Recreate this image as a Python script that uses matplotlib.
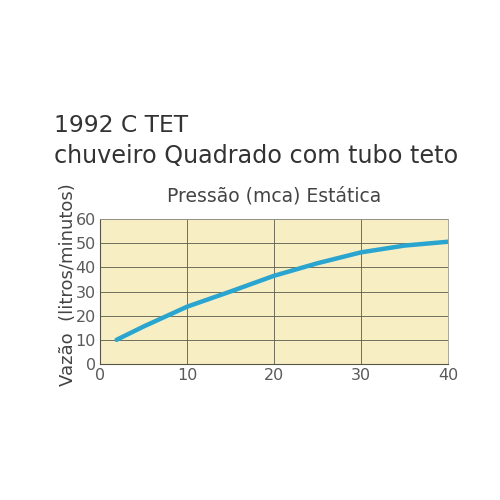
import matplotlib
matplotlib.use("Agg")
import matplotlib.pyplot as plt

pressure = [1.9, 5, 10, 15, 20, 25, 30, 35, 40]
flow = [10, 15.5, 23.7, 30, 36.5, 41.7, 46.2, 49, 50.6]
xticks = [0, 10, 20, 30, 40]
yticks = [0, 10, 20, 30, 40, 50, 60]
title1 = "1992 C TET"
title2 = "chuveiro Quadrado com tubo teto"
xlabel = "Pressão (mca) Estática"
ylabel = "Vazão  (litros/minutos)"

plt.rcParams['font.family'] = ['DejaVu Sans']
fig = plt.figure(figsize=(5, 5), dpi=100)
ax = fig.add_axes([100/500, 1-364/500, 348/500, 145/500])
ax.set_facecolor('#f8eec4')
ax.plot(pressure, flow, color='#2aa5cf', lw=3.2, solid_capstyle='round')
ax.set_xlim(0, 40)
ax.set_ylim(0, 60)
ax.set_xticks(xticks)
ax.set_yticks(yticks)
ax.grid(True, color='#5a5a4c', lw=0.6)
for s in ['top', 'right']:
    ax.spines[s].set_color('#999990')
    ax.spines[s].set_linewidth(0.6)
for s in ['left', 'bottom']:
    ax.spines[s].set_color('#555548')
    ax.spines[s].set_linewidth(0.8)
ax.tick_params(length=0, labelsize=11.5, labelcolor='#5a5a5a', pad=3)
ax.set_axisbelow(True)

fig.text(54/500, 1-125/500, title1, fontsize=16.8, color='#333333', va='center', ha='left')
fig.text(54/500, 1-156/500, title2, fontsize=17.2, color='#333333', va='center', ha='left')
fig.text(274/500, 1-196/500, xlabel, fontsize=13.5, color='#444444', va='center', ha='center')
fig.text(68/500, 1-285/500, ylabel, fontsize=13, color='#444444', va='center', ha='center', rotation=90)

fig.savefig('out.png', dpi=100, facecolor='white')
